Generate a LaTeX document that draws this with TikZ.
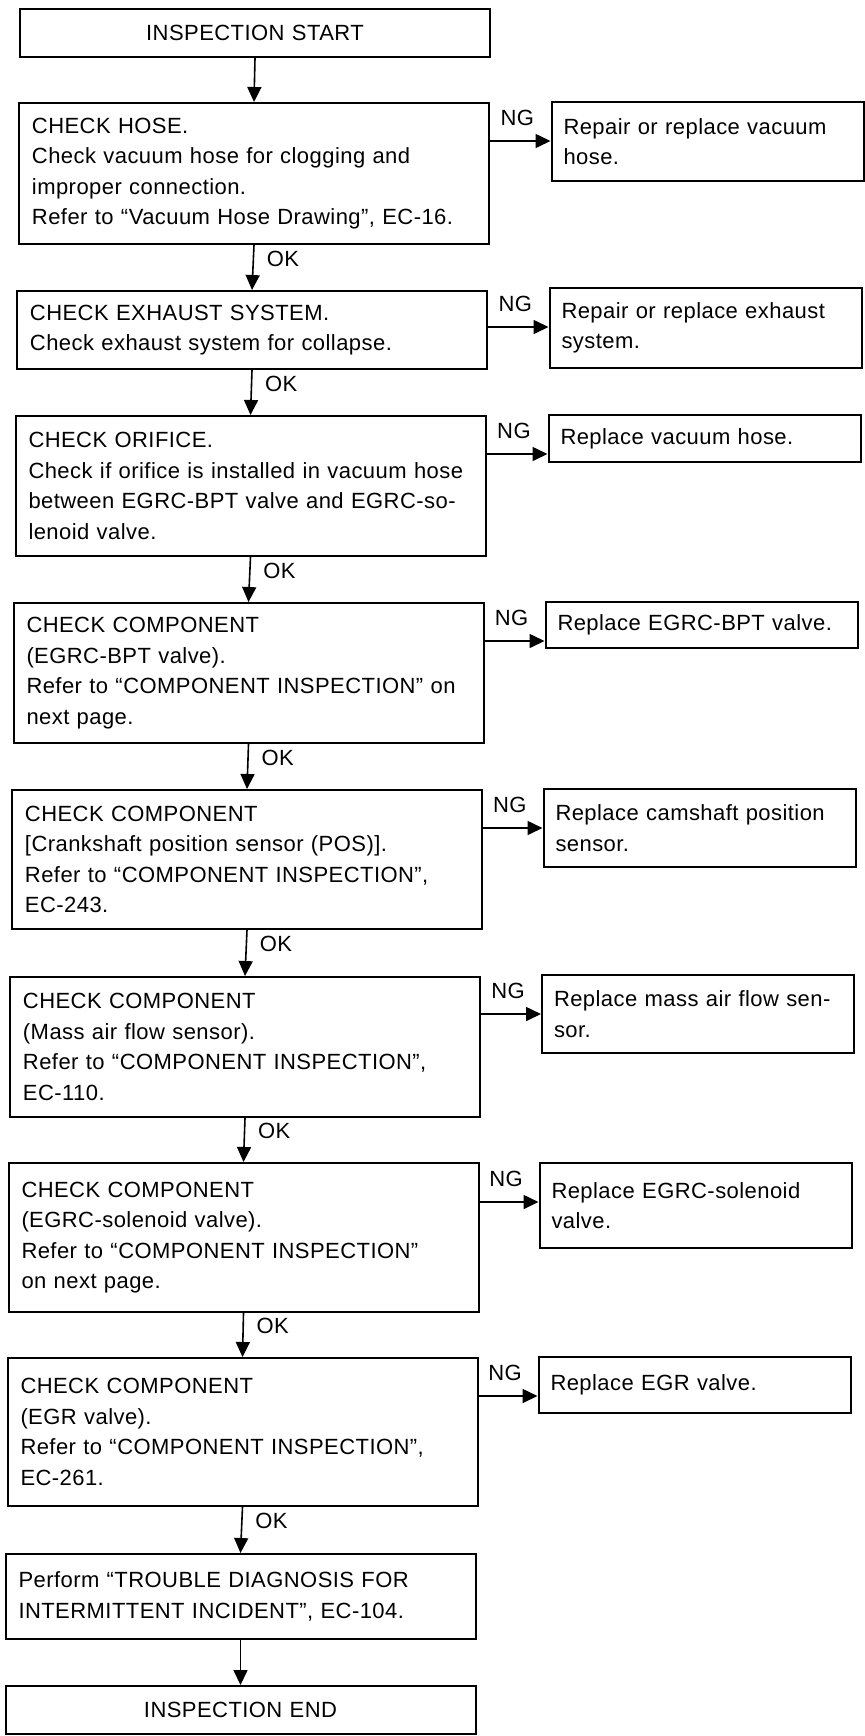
\documentclass[tikz,border=0pt]{standalone}
\usepackage{fontspec}
\setmainfont[LetterSpace=2]{Liberation Sans}
\usetikzlibrary{arrows.meta}
\usetikzlibrary{calc}

\tikzset{
  box/.style={draw, rectangle, line width=1pt},
  mainbox/.style={box, align=left, text width=222pt, inner xsep=6.5pt},
  fixbox/.style={box, align=left, text width=144pt, inner xsep=6pt},
  endbox/.style={box, align=center, text width=222pt, inner xsep=6.5pt},
  arr/.style={line width=0.8pt, -{Triangle[length=7.5pt,width=7pt]}}
}

\begin{document}
\begin{tikzpicture}[x=0.5pt, y=-0.5pt, font=\fontsize{11}{15.25}\selectfont]
\useasboundingbox[fill=white] (0,0) rectangle (864,1736);

\node[endbox, minimum height=24pt] (start) at (255,33) {INSPECTION START};
\node[mainbox, minimum height=70.5pt] (c1) at (254,173.5) {CHECK HOSE.\\Check vacuum hose for clogging and\\improper connection.\\Refer to “Vacuum Hose Drawing”, EC-16.};
\node[mainbox, minimum height=39pt] (c2) at (252,330) {CHECK EXHAUST SYSTEM.\\Check exhaust system for collapse.};
\node[mainbox, minimum height=70pt] (c3) at (250.5,486) {CHECK ORIFICE.\\Check if orifice is installed in vacuum hose\\between EGRC-BPT valve and EGRC-so-\\lenoid valve.};
\node[mainbox, minimum height=70pt] (c4) at (248.5,673) {CHECK COMPONENT\\(EGRC-BPT valve).\\Refer to “COMPONENT INSPECTION” on\\next page.};
\node[mainbox, minimum height=69.5pt] (c5) at (247,859.5) {CHECK COMPONENT\\{[}Crankshaft position sensor (POS){]}.\\Refer to “COMPONENT INSPECTION”,\\EC-243.};
\node[mainbox, minimum height=70pt] (c6) at (245,1047) {CHECK COMPONENT\\(Mass air flow sensor).\\Refer to “COMPONENT INSPECTION”,\\EC-110.};
\node[mainbox, minimum height=74.5pt] (c7) at (243.5,1237.5) {CHECK COMPONENT\\(EGRC-solenoid valve).\\Refer to “COMPONENT INSPECTION”\\on next page.};
\node[mainbox, minimum height=74pt] (c8) at (242.5,1432) {CHECK COMPONENT\\(EGR valve).\\Refer to “COMPONENT INSPECTION”,\\EC-261.};
\node[mainbox, minimum height=42.5pt] (c9) at (240.5,1596.5) {Perform “TROUBLE DIAGNOSIS FOR\\INTERMITTENT INCIDENT”, EC-104.};
\node[endbox, minimum height=24pt] (end) at (240.5,1710) {INSPECTION END};

\node[fixbox, minimum height=39.5pt] (r1) at (707.5,141.5) {Repair or replace vacuum\\hose.};
\node[fixbox, minimum height=40pt] (r2) at (705.5,328) {Repair or replace exhaust\\system.};
\node[fixbox, minimum height=23.5pt] (r3) at (704.5,438.5) {Replace vacuum hose.};
\node[fixbox, minimum height=23pt] (r4) at (701.5,625) {Replace EGRC-BPT valve.};
\node[fixbox, minimum height=39pt] (r5) at (699.5,828) {Replace camshaft position\\sensor.};
\node[fixbox, minimum height=39pt] (r6) at (698,1014) {Replace mass air flow sen-\\sor.};
\node[fixbox, minimum height=42.5pt] (r7) at (695.5,1205.5) {Replace EGRC-solenoid\\valve.};
\node[fixbox, minimum height=28pt] (r8) at (694.5,1385) {Replace EGR valve.};

\foreach \p/\q in {start/c1, c9/end}
{\draw[arr] (\p.south) -- (\q.north);}
\foreach \p/\q in {c1/c2, c2/c3, c3/c4, c4/c5, c5/c6, c6/c7, c7/c8, c8/c9}
{\draw[arr] (\p.south) -- node[right=3pt, pos=0.3] {OK} (\q.north);}
\foreach \i in {1,...,8}
{\coordinate (n\i) at ($(r\i.north west)+(0,40)$);
 \draw[arr] (c\i.east |- n\i) -- node[above=4pt, pos=0.45] {NG} (n\i);}
\end{tikzpicture}
\end{document}
